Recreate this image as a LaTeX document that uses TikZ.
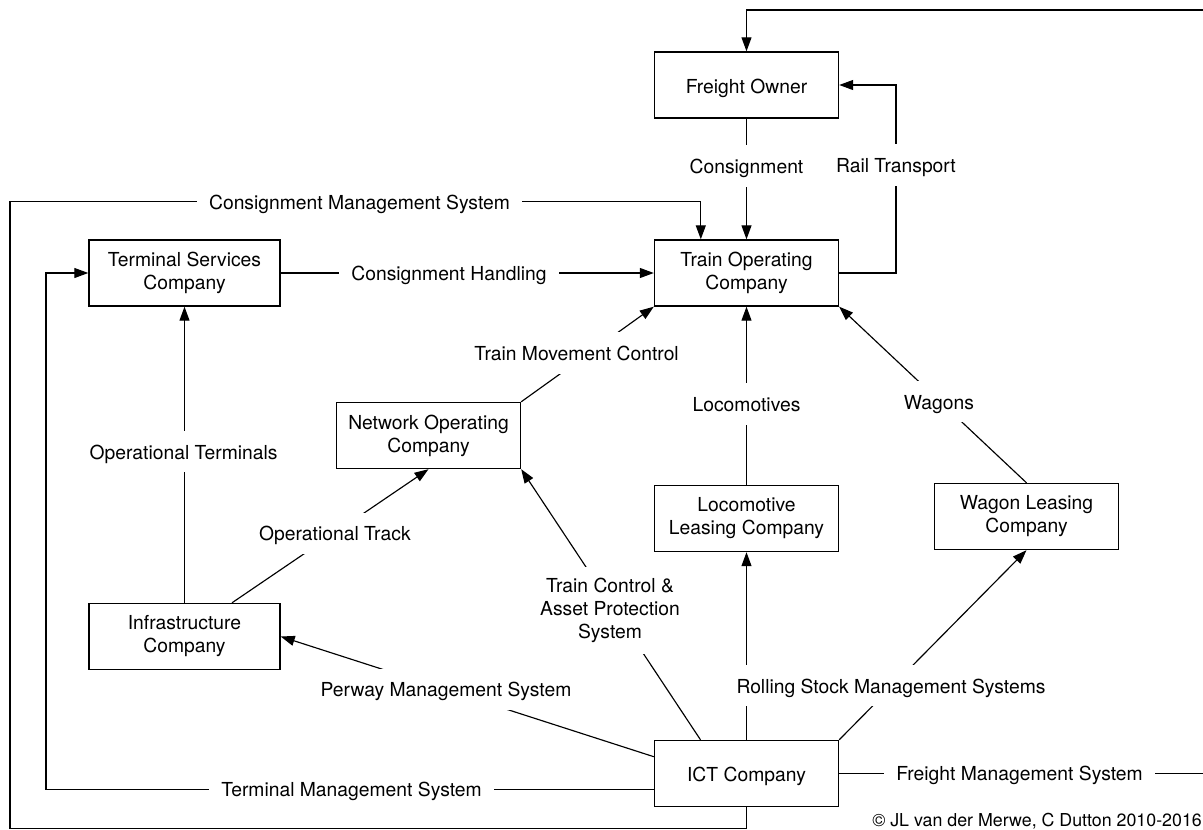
\documentclass[tikz,border=0pt]{standalone}
\usepackage{fontspec}
\setmainfont{TeX Gyre Heros}
\usetikzlibrary{arrows.meta}

\tikzset{
  box/.style={draw, line width=1.4pt, minimum width=184pt, minimum height=66pt,
              align=center, inner sep=4pt,
              execute at begin node={\rule{0pt}{20.5pt}}},
  widebox/.style={box, minimum width=191pt},
  conn/.style={line width=1.15pt},
  tip/.style={-{Triangle[length=14pt,width=10pt]}},
  lblbase/.style={fill=white, inner xsep=12pt, inner ysep=11.5pt, align=center},
  lbl/.style={lblbase, text height=16.7pt, text depth=1.7pt},
}

\begin{document}
\begin{tikzpicture}[x=1pt, y=-1pt, font=\fontsize{19.3}{23}\selectfont]
  \useasboundingbox (0,0) rectangle (1203,830);
  \clip (0,0) rectangle (1203,830);

  % organisations
  \node[box]     (FO)    at (746.5,85)    {Freight Owner};
  \node[box]     (TOC)   at (746.5,273)   {Train Operating\\Company};
  \node[widebox] (TS)    at (184.5,273)   {Terminal Services\\Company};
  \node[box]     (NOC)   at (428.5,435.5) {Network Operating\\Company};
  \node[box]     (LLC)   at (746.5,518.5) {Locomotive\\Leasing Company};
  \node[box]     (WLC)   at (1026.5,516.5){Wagon Leasing\\Company};
  \node[widebox] (INF)   at (184.5,636.5) {Infrastructure\\Company};
  \node[box]     (ICT)   at (746.5,773.5) {ICT Company};

  % helper points for the routed connectors
  \coordinate (cmsY)   at (0,201.7);
  \coordinate (cmsIn)  at ([xshift=-45.7pt]TOC.north);
  \coordinate (cmsBL)  at (10,828.3);
  \coordinate (tmsOut) at ([yshift=-15.8pt]ICT.west);
  \coordinate (tmsUp)  at (46,273);
  \coordinate (rtTop)  at (896,85);
  \coordinate (fmsTop) at (1215,10);
  \coordinate (otOut)  at ([xshift=47.5pt]INF.north);
  \coordinate (tcOut)  at ([xshift=-46pt]ICT.north);
  \coordinate (pwOut)  at ([yshift=16.8pt]ICT.west);

  % flows
  \draw[conn,tip] (FO.south) -- (TOC.north);
  \draw[conn,tip] (TOC.east) -| (rtTop) -- (FO.east);
  \draw[conn,tip] (ICT.south) |- (cmsBL) |- (cmsIn |- cmsY) -- (cmsIn);
  \draw[conn,tip] (TS.east) -- (TOC.west);
  \draw[conn,tip] (NOC.north east) -- (TOC.south west);
  \draw[conn,tip] (LLC.north) -- (TOC.south);
  \draw[conn,tip] (WLC.north) -- (TOC.south east);
  \draw[conn,tip] (INF.north) -- (TS.south);
  \draw[conn,tip] (otOut) -- (NOC.south);
  \draw[conn,tip] (tcOut) -- (NOC.south east);
  \draw[conn,tip] (ICT.north) -- (LLC.south);
  \draw[conn,tip] (ICT.north east) -- (WLC.south);
  \draw[conn,tip] (pwOut) -- (INF.east);
  \draw[conn,tip] (tmsOut) -| (tmsUp) -- (TS.west);
  \draw[conn,tip] (ICT.east) -| (fmsTop) -| (FO.north);

  % flow labels, masking the lines they sit on
  \node[lbl] (lCons)  at (746.5,166)   {Consignment};
  \node[lbl] (lRail)  at (896,165)     {Rail Transport};
  \node[lbl] (lCMS)   at (359.5,201.7) {Consignment Management System};
  \node[lbl] (lCH)    at (449,273.3)   {Consignment Handling};
  \node[lbl] (lTMC)   at (576.6,353)   {Train Movement Control};
  \node[lbl] (lLoco)  at (746.5,404)   {Locomotives};
  \node[lbl] (lWag)   at (939,401.7)   {Wagons};
  \node[lbl] (lOT)    at (183.6,451.7) {Operational Terminals};
  \node[lbl] (lTrack) at (334.9,533.3) {Operational Track};
  \node[lblbase] (lTC) at (610,610.5)  {Train Control \&\\Asset Protection\\System};
  \node[lbl] (lRS)    at (891,685.5)   {Rolling Stock Management Systems};
  \node[lbl] (lPW)    at (446,689.3)   {Perway Management System};
  \node[lbl] (lTMS)   at (351.5,789.3) {Terminal Management System};
  \node[lbl] (lFMS)   at (1019.5,773.3){Freight Management System};

  \node[anchor=east, inner sep=0pt, font=\fontsize{17.8}{20}\selectfont]
    (copy) at (1202,821) {© JL van der Merwe, C Dutton 2010-2016};
\end{tikzpicture}
\end{document}
